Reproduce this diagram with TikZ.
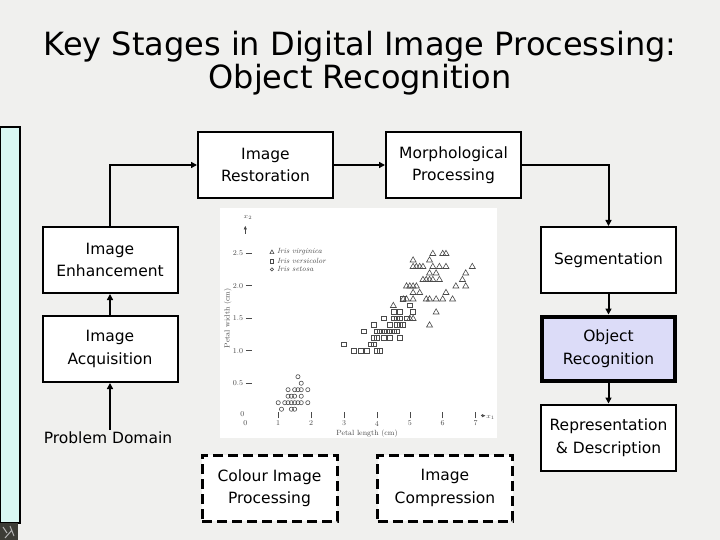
\documentclass[tikz,border=0pt]{standalone}
\usepackage{fontspec}
\newfontfamily\tah{DejaVu Sans}
\usetikzlibrary{arrows.meta}
\definecolor{bgc}{HTML}{F0F0EE}
\definecolor{barc}{HTML}{D9F7F3}
\definecolor{objc}{HTML}{DCDCF8}
\definecolor{ptc}{HTML}{4A4A4A}
\definecolor{photoc}{HTML}{3C3C36}
\begin{document}
\begin{tikzpicture}[x=1pt,y=-1pt,
  box/.style={draw=black, line width=2pt, fill=white, minimum width=135pt, minimum height=66pt,
    inner sep=0pt, align=center, font=\tah\fontsize{15.5}{22.5}\selectfont},
  dbox/.style={box, dash pattern=on 10pt off 5pt, line width=3pt},
  arr/.style={line width=2pt, -{Triangle[length=6pt,width=6pt]}},
  ttl/.style={anchor=base, font=\tah\fontsize{32}{33}\selectfont},
  ptxt/.style={text=ptc, inner sep=0pt, font=\fontsize{7.5}{8.5}\selectfont},
  mk/.style={draw=ptc, line width=0.6pt}
]
\useasboundingbox (0,0) rectangle (720,540);
\fill[bgc] (0,0) rectangle (720,540);

% title
\node[ttl] (t1) at (360,56) {Key Stages in Digital Image Processing:};
\node[ttl] (t2) at (360,89) {Object Recognition};

% left bar and photo
\node[draw=black, line width=1.5pt, fill=barc, minimum width=20pt, minimum height=396pt, inner sep=0pt] (bar) at (10,325) {};
\node[fill=photoc, minimum width=18pt, minimum height=17pt, inner sep=0pt] (photo) at (9,531.5) {};
\draw[gray!60, line width=1pt] (3,527) -- (7,533) (10,526) -- (14,536) (5,538) -- (12,530);

% scatter plot
\node[fill=white, inner sep=0pt, minimum width=277pt, minimum height=230pt] (plot) at (358.5,323) {};
\begin{scope}[shift={(245.3pt,-415.7pt)}, x=32.9pt, y=65pt]
  % axes decorations
  \draw[ptc, line width=0.6pt, -{Triangle[length=3.5pt,width=3pt]}] (0,2.8) -- (0,2.92);
  \node[ptxt] (x2lab) at (0.08,3.05) {$x_2$};
  \draw[ptc, line width=0.6pt, -{Triangle[length=3.5pt,width=3pt]}] (7.15,0) -- (7.3,0);
  \node[ptxt, anchor=west] (x1lab) at (7.32,-0.03) {$x_1$};
  \foreach \v in {0.5,1.0,1.5,2.0,2.5}{
    \node[ptxt] at (-0.22,\v) {\v};
    \draw[ptc, line width=0.5pt] (0.02,\v) -- (0.2,\v);
  }
  \node[ptxt] at (-0.09,0.02) {0};
  \foreach \v in {1,...,7}{
    \draw[ptc, line width=0.5pt] (\v,-0.04) -- (\v,0.05);
  }
  \foreach \v in {0,...,7}{
    \node[ptxt] at (\v,-0.12) {\v};
  }
  \node[ptxt, rotate=90] (ylab) at (-0.53,1.5) {Petal width (cm)};
  \node[ptxt] (xlab) at (3.7,-0.27) {Petal length (cm)};
  % legend
  \draw[mk] (0.81,2.52) +(-2pt,-1.7pt) -- +(2pt,-1.7pt) -- +(0,2pt) -- cycle;
  \node[ptxt, anchor=west] at (0.96,2.52) {\itshape Iris virginica};
  \draw[mk] (0.81,2.38) +(-1.8pt,-1.8pt) rectangle +(1.8pt,1.8pt);
  \node[ptxt, anchor=west] at (0.96,2.38) {\itshape Iris versicolor};
  \draw[mk] (0.81,2.25) circle[radius=1.6pt];
  \node[ptxt, anchor=west] at (0.96,2.25) {\itshape Iris setosa};
  % setosa
  \foreach \p/\q in {1.4/0.2,1.3/0.2,1.5/0.2,1.7/0.4,1.4/0.3,1.5/0.1,1.6/0.2,1.4/0.1,1.1/0.1,1.2/0.2,
      1.5/0.4,1.3/0.4,1.7/0.3,1.5/0.3,1.7/0.2,1.0/0.2,1.7/0.5,1.9/0.2,1.6/0.4,1.3/0.3,1.6/0.6,1.9/0.4}{
    \draw[mk] (\p,\q) circle[radius=2.1pt];
  }
  % versicolor
  \foreach \p/\q in {4.7/1.4,4.5/1.5,4.9/1.5,4.0/1.3,4.6/1.5,4.5/1.3,4.7/1.6,3.3/1.0,4.6/1.3,3.9/1.4,
      3.5/1.0,4.2/1.5,4.0/1.0,3.6/1.3,4.4/1.4,4.1/1.0,3.9/1.1,4.8/1.8,4.7/1.2,4.3/1.3,4.8/1.4,5.0/1.7,
      3.8/1.1,3.7/1.0,3.9/1.2,5.1/1.6,4.5/1.6,4.7/1.5,4.4/1.3,4.1/1.3,4.4/1.2,4.6/1.4,4.0/1.2,4.2/1.3,
      4.2/1.2,3.0/1.1}{
    \draw[mk] (\p,\q) +(-2.5pt,-2.2pt) rectangle +(2.5pt,2.2pt);
  }
  % virginica
  \foreach \p/\q in {6.0/2.5,5.1/1.9,5.9/2.1,5.6/1.8,5.8/2.2,6.6/2.1,4.5/1.7,6.3/1.8,5.8/1.8,6.1/2.5,
      5.1/2.0,5.3/1.9,5.5/2.1,5.0/2.0,5.1/2.4,5.3/2.3,5.5/1.8,6.7/2.2,6.9/2.3,5.0/1.5,5.7/2.3,4.9/2.0,
      6.7/2.0,4.9/1.8,5.7/2.1,6.0/1.8,4.8/1.8,5.6/2.1,5.8/1.6,6.1/1.9,6.4/2.0,5.6/2.2,5.1/1.5,5.6/1.4,
      6.1/2.3,5.6/2.4,5.4/2.1,5.1/2.3,5.9/2.3,5.7/2.5,5.2/2.3,5.2/2.0,5.4/2.3,5.1/1.8}{
    \draw[mk] (\p,\q) +(-3pt,-2.3pt) -- +(3pt,-2.3pt) -- +(0,2.9pt) -- cycle;
  }
\end{scope}

% boxes
\node[box] (restor) at (265.5,165) {Image\\Restoration};
\node[box] (morph) at (453.5,165) {Morphological\\Processing};
\node[box] (enh) at (110,260) {Image\\Enhancement};
\node[box] (acq) at (110,349) {Image\\Acquisition};
\node[box] (seg) at (608.5,260) {Segmentation};
\node[box, fill=objc, line width=4pt, minimum width=133pt, minimum height=64pt] (objrec) at (608.5,348.5) {Object\\Recognition};
\node[box] (repr) at (608.5,437.5) {Representation\\\& Description};
\node[dbox] (colour) at (269.5,488) {Colour Image\\Processing};
\node[dbox] (compr) at (445,488) {Image\\Compression};
\node[inner sep=2pt, font=\tah\fontsize{15.5}{22.5}\selectfont] (prob) at (108,438) {Problem Domain};

% connectors
\draw[arr] (prob.north -| acq.south) -- (acq.south);
\draw[arr] (acq.north) -- (enh.south);
\draw[arr] (enh.north) |- (restor.west);
\draw[arr] (restor.east) -- (morph.west);
\draw[arr] (morph.east) -| (seg.north);
\draw[arr] (seg.south) -- (objrec.north);
\draw[arr] (objrec.south) -- (repr.north);
\end{tikzpicture}
\end{document}
